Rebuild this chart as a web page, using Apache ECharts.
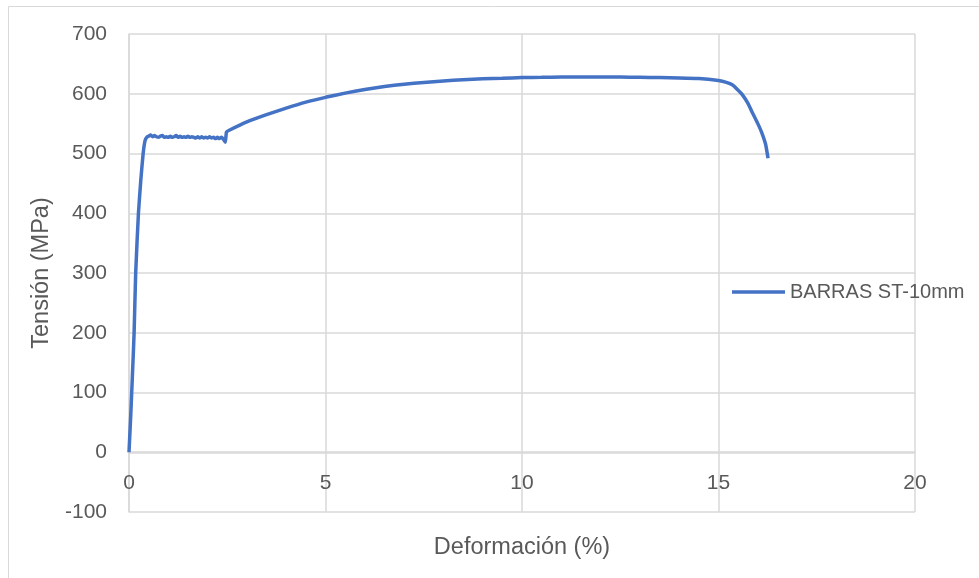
<!DOCTYPE html>
<html>
<head>
<meta charset="utf-8">
<script src="https://cdn.jsdelivr.net/npm/echarts@6/dist/echarts.min.js"></script>
<style>
html,body{margin:0;padding:0;background:#fff;}
#chart{width:979px;height:578px;}
</style>
</head>
<body>
<div id="chart"></div>
<script>
const seriesName = "BARRAS ST-10mm";
const xTitle = "Deformación (%)";
const yTitle = "Tensión (MPa)";

// strain (%) values
const strain = [
  0, 0.05, 0.11, 0.13, 0.17, 0.24, 0.3, 0.36, 0.41, 0.46,
  0.5, 0.55, 0.6, 0.65, 0.7, 0.75, 0.8, 0.85, 0.9, 0.95,
  1.0, 1.05, 1.1, 1.15, 1.2, 1.25, 1.3, 1.35, 1.4, 1.45,
  1.5, 1.55, 1.6, 1.65, 1.7, 1.75, 1.8, 1.85, 1.9, 1.95,
  2.0, 2.05, 2.1, 2.15, 2.2, 2.25, 2.3, 2.35, 2.4, 2.45,
  2.48, 2.55, 3.0, 3.5, 4.0, 4.5, 5.0, 5.5, 6.0, 6.5,
  7.0, 7.5, 8.0, 8.5, 9.0, 9.5, 10.0, 10.5, 11.0, 11.5,
  12.0, 12.5, 13.0, 13.5, 14.0, 14.5, 15.0, 15.2, 15.35, 15.5,
  15.6, 15.75, 15.85, 16.0, 16.1, 16.2, 16.26
];
// stress (MPa) values
const stress = [
  0, 70, 166, 200, 300, 400, 455, 500, 522, 528,
  529, 531, 528, 530, 528, 527, 529, 530, 527, 528,
  527, 529, 527, 528, 530, 527, 529, 527, 528, 527,
  529, 527, 528, 527, 526, 528, 526, 528, 526, 527,
  526, 528, 526, 527, 525, 527, 525, 527, 524, 519,
  536, 539, 553, 565, 576, 586, 594, 601, 607, 612,
  616, 619, 621.5, 623.5, 625, 626, 627, 627.5, 628, 628,
  628, 628, 627.5, 627, 626.5, 625.5, 622, 619, 615, 606,
  599, 584, 570, 550, 535, 515, 492
];
const xTicks = {min: 0, max: 20, interval: 5};
const yTicks = {min: -100, max: 700, interval: 100};

const data = strain.map((x, i) => [x, stress[i]]);

const chart = echarts.init(document.getElementById('chart'));
const font = "'Liberation Sans', Arial, sans-serif";
chart.setOption({
  animation: false,
  backgroundColor: '#fff',
  graphic: [{
    type: 'rect', silent: true, z: -10,
    shape: {x: 8.5, y: 6.5, width: 1000, height: 600},
    style: {fill: 'none', stroke: '#d9d9d9', lineWidth: 1}
  }],
  grid: {left: 129, right: 64, top: 34, bottom: 66, outerBoundsMode: 'none', containLabel: false},
  legend: {
    data: [seriesName],
    left: 732, top: 282, padding: 0,
    icon: 'rect', itemWidth: 53, itemHeight: 3.5, itemGap: 5,
    textStyle: {fontFamily: font, fontSize: 20, color: '#595959'}
  },
  xAxis: {
    type: 'value', min: xTicks.min, max: xTicks.max, interval: xTicks.interval,
    position: 'bottom', offset: -60,
    name: xTitle, nameLocation: 'middle', nameGap: 84,
    nameTextStyle: {fontFamily: font, fontSize: 23.5, color: '#595959'},
    axisLine: {onZero: false, lineStyle: {color: '#d9d9d9', width: 1.5}},
    axisTick: {show: false},
    axisLabel: {fontFamily: font, fontSize: 21, color: '#595959', margin: 21},
    splitLine: {show: true, lineStyle: {color: '#d9d9d9', width: 1.5}}
  },
  yAxis: {
    type: 'value', min: yTicks.min, max: yTicks.max, interval: yTicks.interval,
    name: yTitle, nameLocation: 'middle', nameGap: 75, nameRotate: 90,
    nameTextStyle: {fontFamily: font, fontSize: 23.5, color: '#595959'},
    axisLine: {show: true, lineStyle: {color: '#d9d9d9', width: 1.5}},
    axisTick: {show: false},
    axisLabel: {fontFamily: font, fontSize: 21, color: '#595959', margin: 22},
    splitLine: {show: true, lineStyle: {color: '#d9d9d9', width: 1.5}}
  },
  series: [{
    name: seriesName, type: 'line', data: data,
    showSymbol: false, symbol: 'none', smooth: 0.15,
    lineStyle: {color: '#4472C4', width: 3.5},
    itemStyle: {color: '#4472C4'}
  }]
});
</script>
</body>
</html>
